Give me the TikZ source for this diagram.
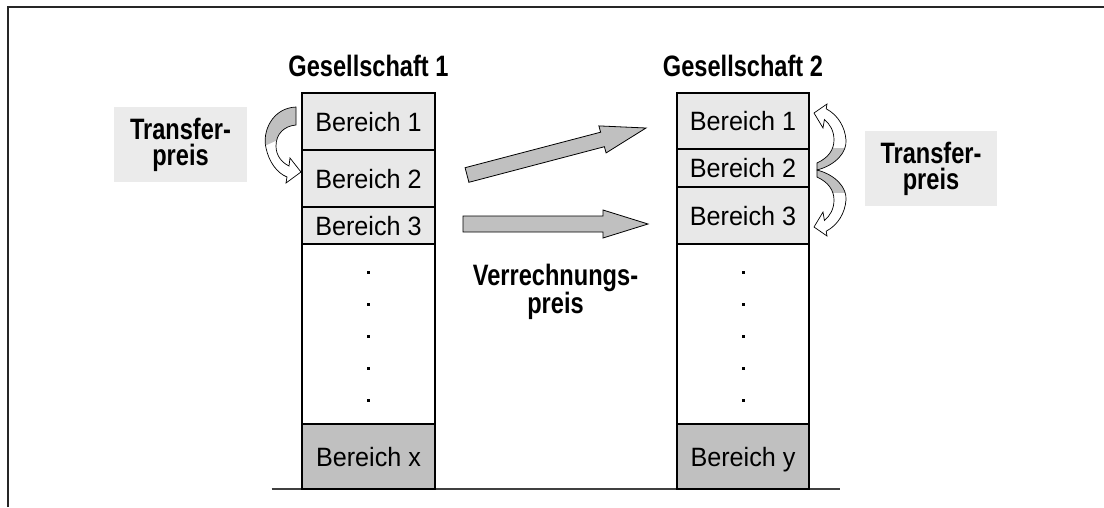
\documentclass[tikz,border=0pt]{standalone}
\usepackage{fontspec}
\setmainfont{Liberation Sans}[FakeStretch=0.95]
\newfontfamily\headfont{Liberation Sans}[FakeStretch=0.80]
\definecolor{rowgray}{HTML}{E8E8E8}
\definecolor{darkrow}{HTML}{C0C0C0}
\definecolor{boxgray}{HTML}{EBEBEB}
\definecolor{arrowgray}{HTML}{C0C0C0}
\begin{document}
\begin{tikzpicture}[x=1pt,y=-1pt,
  rowbox/.style={draw=black, line width=1.1pt, fill=rowgray, inner sep=0pt,
    font=\fontsize{26.5}{28}\selectfont, text height=19pt, text depth=0pt},
  colone/.style={rowbox, minimum width=133pt},
  coltwo/.style={rowbox, minimum width=132pt},
  headlabel/.style={font=\headfont\bfseries\fontsize{29.5}{26}\selectfont, inner sep=0pt, align=center},
  tbox/.style={headlabel, fill=boxgray, minimum width=133pt, minimum height=75pt},
  blockarrow/.style={draw=black, line width=0.8pt, fill=arrowgray, line join=miter},
  ribbon/.style={draw=black, line width=0.7pt}]
\useasboundingbox (0,0) rectangle (1104,507);

% frame
\coordinate (fb) at (8,507);
\coordinate (fc) at (8,7);
\coordinate (fr) at (1104,7);
\draw[line width=2pt, black!85] (fb) -- (fc) -- (fr);

% ground line
\coordinate (gl) at (271.5,489);
\coordinate (gr) at (839.8,489);
\draw[line width=1.2pt, black!75] (gl) -- (gr);

% titles
\node[headlabel, anchor=base] (t1) at (368.5,76.5) {Gesellschaft 1};
\node[headlabel, anchor=base] (t2) at (743,76.5) {Gesellschaft 2};

% column 1
\node[colone, minimum height=57pt] (a1) at (368.5,121.5) {Bereich 1};
\node[colone, minimum height=57pt] (a2) at (368.5,178.5) {Bereich 2};
\node[colone, minimum height=37pt] (a3) at (368.5,225.5) {Bereich 3};
\node[colone, fill=white, minimum height=180pt] (ad) at (368.5,334) {};
\node[colone, fill=darkrow, minimum height=65pt] (ax) at (368.5,456.5) {Bereich x};

% column 2
\node[coltwo, minimum height=56pt] (b1) at (743,121) {Bereich 1};
\node[coltwo, minimum height=38pt] (b2) at (743,168) {Bereich 2};
\node[coltwo, minimum height=57pt] (b3) at (743,215.5) {Bereich 3};
\node[coltwo, fill=white, minimum height=180pt] (bd) at (743,334) {};
\node[coltwo, fill=darkrow, minimum height=65pt] (by) at (743,456.5) {Bereich y};

% dots
\foreach \yy in {272.5,304.5,336.5,368.5,400.5} {
  \fill (367,\yy-1.5) rectangle ++(3,3);
  \fill (741.5,\yy-1.5) rectangle ++(3,3);
}

% transfer boxes
\node[tbox] (tl) at (180.5,144.5) {Transfer-\\preis};
\node[tbox, minimum width=132pt] (tr) at (931,168.5) {Transfer-\\preis};

% Verrechnungspreis label
\node[headlabel] (vp) at (555.5,292) {Verrechnungs-\\preis};

% straight block arrows
\draw[blockarrow] (465.1,167.7) -- (600.6,132.2) -- (598.9,125.9) -- (646,128)
  -- (606.1,152.9) -- (604.4,146.7) -- (468.9,182.3) -- cycle;
\draw[blockarrow] (463,216) -- (603,216) -- (603,210) -- (648,224)
  -- (603,238) -- (603,232) -- (463,232) -- cycle;

% left curved arrow (Bereich 1 -> Bereich 2)
\def\leftarrowpath{(296,107) .. controls (272,108) and (262,132) .. (266,148)
  .. controls (269,162) and (277,173) .. (287,177) -- (286,183) -- (301,172)
  -- (290,158) -- (289,166) .. controls (281,162) and (276,155) .. (276,146)
  .. controls (276,134) and (284,126) .. (296,125) -- cycle}
\fill[white] \leftarrowpath;
\begin{scope}
  \clip (250,90) -- (310,90) -- (310,136) -- (280,139) -- (260,148) -- (250,148) -- cycle;
  \fill[arrowgray] \leftarrowpath;
\end{scope}
\draw[ribbon] \leftarrowpath;

% right curved arrows (Bereich 2 -> Bereich 1, Bereich 2 -> Bereich 3)
\def\rightuppath{(817,163) .. controls (828,158) and (834,150) .. (834,140)
  .. controls (834,131) and (830,124) .. (824.4,119.6) -- (823,128) -- (814,113)
  -- (827,104) -- (826.2,108.8) .. controls (838,115) and (845,127) .. (846,140)
  .. controls (847,152) and (836,165) .. (817,170) -- cycle}
\def\rightlowpath{(817,177) .. controls (828,182) and (834,190) .. (834,200)
  .. controls (834,209) and (830,216) .. (824.4,220.4) -- (823,212) -- (814,227)
  -- (827,236) -- (826.2,231.2) .. controls (838,225) and (845,213) .. (846,200)
  .. controls (847,188) and (836,175) .. (817,170) -- cycle}
\fill[white] \rightuppath;
\fill[white] \rightlowpath;
\begin{scope}
  \clip (805,148) rectangle (855,172);
  \fill[arrowgray] \rightuppath;
\end{scope}
\begin{scope}
  \clip (805,168) rectangle (855,192);
  \fill[arrowgray] \rightlowpath;
\end{scope}
\draw[ribbon] \rightuppath;
\draw[ribbon] \rightlowpath;
\end{tikzpicture}
\end{document}
